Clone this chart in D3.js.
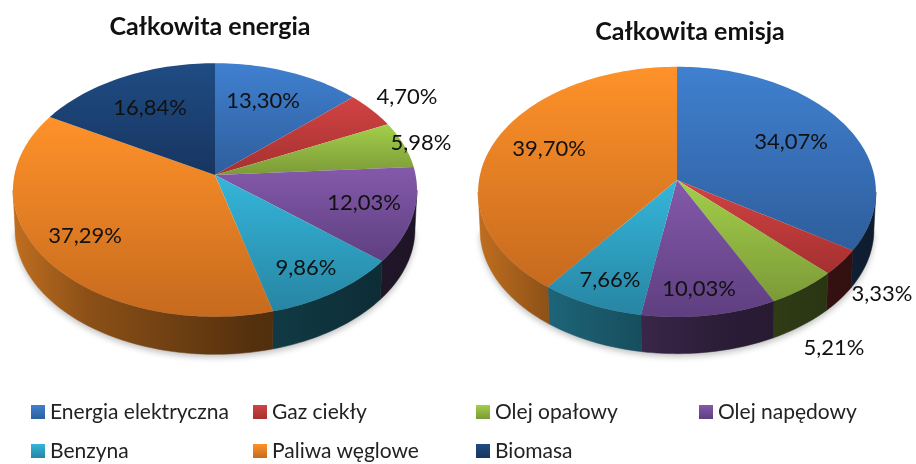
<!DOCTYPE html>
<html>
<head>
<meta charset="utf-8">
<script src="https://d3js.org/d3.v7.min.js"></script>
<style>
html, body { margin: 0; padding: 0; background: #fff; }
svg { display: block; filter: blur(.45px); }
text { font-family: Lato, "Open Sans", sans-serif; }
</style>
</head>
<body>
<div id="my_dataviz"></div>
<script>
// data
var categories = ["Energia elektryczna", "Gaz ciekły", "Olej opałowy", "Olej napędowy", "Benzyna", "Paliwa węglowe", "Biomasa"];
var energyValues = [13.30, 4.70, 5.98, 12.03, 9.86, 37.29, 16.84];
var emissionValues = [34.07, 3.33, 5.21, 10.03, 7.66, 39.70, 0];
var titles = ["Całkowita energia", "Całkowita emisja"];

var colorsTop = ["#4080d0", "#d24343", "#a3cf4a", "#8459aa", "#35b6da", "#ff9229", "#1f4c84"];
var colorsBottom = ["#2e5e9c", "#a53030", "#7c9a38", "#5e3f80", "#2785a3", "#c66a1e", "#173560"];

var width = 916, height = 464;

var svg = d3.select("#my_dataviz")
  .append("svg")
  .attr("width", width)
  .attr("height", height);
var defs = svg.append("defs");

defs.append("filter").attr("id", "soft")
  .attr("x", "-5%").attr("y", "-5%").attr("width", "110%").attr("height", "110%")
  .append("feGaussianBlur").attr("stdDeviation", 3);

colorsTop.forEach(function(c, i) {
  var g = defs.append("linearGradient").attr("id", "top" + i)
    .attr("x1", 0).attr("x2", 0).attr("y1", 0).attr("y2", 1);
  g.append("stop").attr("offset", 0).attr("stop-color", c);
  g.append("stop").attr("offset", 1).attr("stop-color", colorsBottom[i]);
});

// the wall gets darker from the left edge to the right edge
var wallStops = [[0, .75], [.18, .55], [.6, .33], [1, .22]];

function shade(c, f) {
  var r = d3.rgb(c);
  return d3.rgb(r.r * f, r.g * f, r.b * f).formatHex();
}

function drawPie(values, o, id) {
  // perspective: the far side of the disc is smaller than the near side
  function project(a, cy, scale) {
    var u = Math.sin(a), v = Math.cos(a), w = 1 + o.k * v;
    return [o.cx + o.R * scale * u / w, cy - o.H * scale * v / w];
  }
  var line = d3.line();
  var arcs = d3.pie().sort(null).value(function(d) { return d; })(values);
  var g = svg.append("g");
  var limit = Math.acos(-o.k);

  colorsTop.forEach(function(c, i) {
    var lg = defs.append("linearGradient").attr("id", "wall" + id + i)
      .attr("gradientUnits", "userSpaceOnUse")
      .attr("x1", o.cx - o.R).attr("x2", o.cx + o.R).attr("y1", 0).attr("y2", 0);
    wallStops.forEach(function(s) {
      lg.append("stop").attr("offset", s[0]).attr("stop-color", shade(c, s[1]));
    });
  });

  function arcPoints(a0, a1, cy, scale) {
    var n = Math.max(2, Math.ceil((a1 - a0) * 40));
    return d3.range(n + 1).map(function(j) {
      return project(a0 + (a1 - a0) * j / n, cy, scale);
    });
  }

  // shadow under the wall
  var rim = arcPoints(limit, 2 * Math.PI - limit, o.cy + o.depth + 3, o.bottomScale);
  g.append("path")
    .attr("d", line(rim) + "Z")
    .attr("fill", "#000")
    .attr("opacity", .25)
    .attr("filter", "url(#soft)");

  // side walls, only the part that faces us
  arcs.forEach(function(d, i) {
    var a0 = Math.max(d.startAngle, limit), a1 = Math.min(d.endAngle, 2 * Math.PI - limit);
    if (a1 <= a0) return;
    var pts = arcPoints(a0, a1, o.cy, 1).concat(arcPoints(a0, a1, o.cy + o.depth, o.bottomScale).reverse());
    g.append("path")
      .attr("d", line(pts) + "Z")
      .attr("fill", "url(#wall" + id + i + ")")
      .attr("stroke", "url(#wall" + id + i + ")")
      .attr("stroke-width", .5);
  });

  // top faces
  arcs.forEach(function(d, i) {
    if (d.value === 0) return;
    var pts = [[o.cx, o.cy]].concat(arcPoints(d.startAngle, d.endAngle, o.cy, 1));
    g.append("path")
      .attr("d", line(pts) + "Z")
      .attr("fill", "url(#top" + i + ")");
  });

  g.append("text")
    .attr("x", o.titleX)
    .attr("y", o.titleY)
    .attr("text-anchor", "middle")
    .attr("font-weight", "bold")
    .attr("font-size", 25)
    .attr("fill", "#111")
    .text(o.title);

  var fmt = function(v) { return v.toFixed(2).replace(".", ",") + "%"; };
  values.forEach(function(v, i) {
    if (v === 0) return;
    g.append("text")
      .attr("x", o.labels[i][0])
      .attr("y", o.labels[i][1])
      .attr("dy", ".35em")
      .attr("text-anchor", "middle")
      .attr("font-size", 22)
      .attr("fill", "#111")
      .text(fmt(v));
  });
}

drawPie(energyValues, {
  cx: 215, cy: 175, R: 200.6, H: 125, k: .118, depth: 39, bottomScale: .99,
  title: titles[0], titleX: 210, titleY: 35,
  labels: [[263, 100], [407, 96], [421, 142], [364, 202], [306, 267], [85, 235], [150, 107]]
}, "a");

drawPie(emissionValues, {
  cx: 677, cy: 180, R: 198, H: 124, k: .095, depth: 38, bottomScale: .99,
  title: titles[1], titleX: 690, titleY: 40,
  labels: [[791, 141], [882, 293], [834, 347], [699, 288], [610, 279], [549, 148]]
}, "b");

// legend, two rows
var legendX = [31, 253, 476, 699];
var legendY = [412, 451];
var legend = svg.append("g");
categories.forEach(function(name, i) {
  var lx = legendX[i % 4], ly = legendY[Math.floor(i / 4)];
  legend.append("rect")
    .attr("x", lx).attr("y", ly - 7)
    .attr("width", 14).attr("height", 14)
    .attr("fill", "url(#top" + i + ")");
  legend.append("text")
    .attr("x", lx + 19).attr("y", ly)
    .attr("dy", ".35em")
    .attr("font-size", 21)
    .attr("fill", "#222")
    .text(name);
});
</script>
</body>
</html>
